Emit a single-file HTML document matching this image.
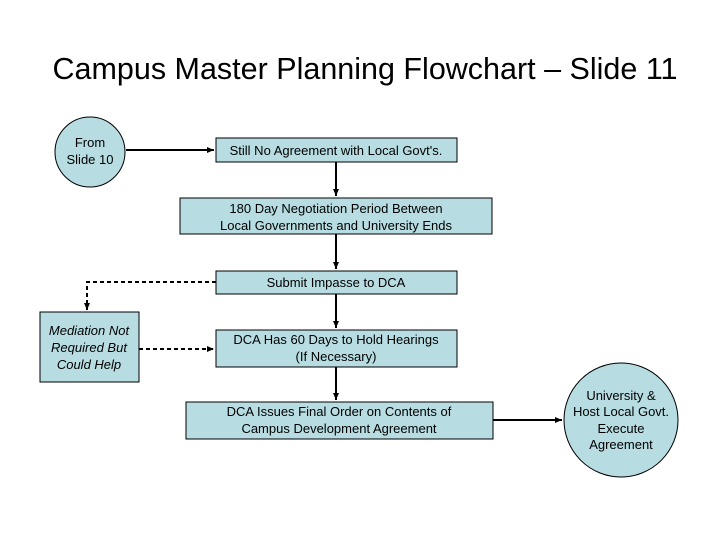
<!DOCTYPE html>
<html><head><style>
body{margin:0;background:#fff;}
svg text{font-family:"Liberation Sans",sans-serif;}
</style></head><body>
<svg width="720" height="540" viewBox="0 0 720 540" xmlns="http://www.w3.org/2000/svg">
<defs><marker id="a" markerWidth="8" markerHeight="8" refX="7" refY="4" orient="auto" markerUnits="userSpaceOnUse"><path d="M0,1 L7,4 L0,7 Z" fill="#000"/></marker></defs>
<rect width="720" height="540" fill="#fff"/>
<text x="365" y="79" font-size="30.5" text-anchor="middle">Campus Master Planning Flowchart – Slide 11</text>
<g fill="#b7dde2" stroke="#000" stroke-width="1">
<circle cx="90" cy="152" r="35"/>
<rect x="216" y="138" width="241" height="24"/>
<rect x="180" y="198" width="312" height="36"/>
<rect x="216" y="271" width="241" height="23"/>
<rect x="40" y="312" width="99" height="70"/>
<rect x="216" y="330" width="241" height="37"/>
<rect x="186" y="402" width="307" height="37"/>
<circle cx="621" cy="420" r="57"/>
</g>
<g stroke="#000" stroke-width="2" fill="none">
<line x1="126" y1="150" x2="214" y2="150" marker-end="url(#a)"/>
<line x1="336" y1="162" x2="336" y2="196" marker-end="url(#a)"/>
<line x1="336" y1="234" x2="336" y2="269" marker-end="url(#a)"/>
<line x1="336" y1="294" x2="336" y2="328" marker-end="url(#a)"/>
<line x1="336" y1="367" x2="336" y2="400" marker-end="url(#a)"/>
<line x1="493" y1="420" x2="562" y2="420" marker-end="url(#a)"/>
<path d="M216 282 H87 V310" stroke-dasharray="4,3" marker-end="url(#a)"/>
<line x1="139" y1="349" x2="214" y2="349" stroke-dasharray="4,3" marker-end="url(#a)"/>
</g>
<g font-size="13" text-anchor="middle" fill="#000">
<text x="90" y="147">From</text><text x="90" y="164">Slide 10</text>
<text x="336" y="155">Still No Agreement with Local Govt's.</text>
<text x="336" y="213">180 Day Negotiation Period Between</text>
<text x="336" y="230">Local Governments and University Ends</text>
<text x="336" y="287">Submit Impasse to DCA</text>
<g font-style="italic"><text x="89" y="335">Mediation Not</text><text x="89" y="352">Required But</text><text x="89" y="369">Could Help</text></g>
<text x="336" y="344">DCA Has 60 Days to Hold Hearings</text>
<text x="336" y="361">(If Necessary)</text>
<text x="339" y="416">DCA Issues Final Order on Contents of</text>
<text x="339" y="433">Campus Development Agreement</text>
<text x="621" y="400">University &amp;</text>
<text x="621" y="416">Host Local Govt.</text>
<text x="621" y="433">Execute</text>
<text x="621" y="449">Agreement</text>
</g>
</svg>
</body></html>
